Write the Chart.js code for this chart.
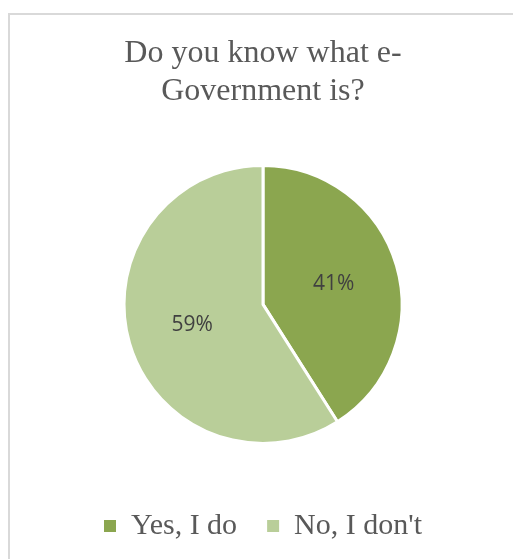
<!DOCTYPE html>
<html lang="en">
<head>
  <meta charset="UTF-8">
  <title>Do you know what e-Government is?</title>
  <style>
    html, body {
      margin: 0;
      padding: 0;
      background-color: white;
      overflow: hidden;
    }

    /* marco gris del grafico, se sale por la derecha y por abajo */
    .chart-frame {
      position: absolute;
      left: 8px;
      top: 13px;
      width: 600px;
      height: 600px;
      border: 2px solid #d9d9d9;
    }

    .chart-container {
      position: absolute;
      left: 0;
      top: 0;
      width: 513px;
      height: 559px;
    }
  </style>
  <script src="https://cdn.jsdelivr.net/npm/chart.js"></script>
</head>
<body>
  <div class="chart-frame"></div>
  <div class="chart-container">
    <canvas id="graficaGobierno"></canvas>
  </div>

  <script>
    const titleLines = ['Do you know what e-', 'Government is?'];
    const categories = ['Yes, I do', "No, I don't"];
    const percentValues = [41, 59];
    const sliceColors = ['#8ba64f', '#b9ce99'];

    // etiquetas de porcentaje dentro de cada porcion
    const sliceLabels = {
      id: 'sliceLabels',
      afterDatasetsDraw(chart) {
        const ctx = chart.ctx;
        const meta = chart.getDatasetMeta(0);
        const data = chart.data.datasets[0].data;
        const total = data.reduce((a, b) => a + b, 0);
        ctx.save();
        ctx.font = '21px "Open Sans"';
        ctx.fillStyle = '#404040';
        ctx.textAlign = 'center';
        ctx.textBaseline = 'middle';
        meta.data.forEach((arc, i) => {
          const p = arc.getProps(['x', 'y', 'startAngle', 'endAngle', 'outerRadius'], true);
          const mid = (p.startAngle + p.endAngle) / 2;
          const r = p.outerRadius * 0.53;
          const text = Math.round(data[i] / total * 100) + '%';
          ctx.fillText(text, p.x + Math.cos(mid) * r, p.y + Math.sin(mid) * r);
        });
        ctx.restore();
      }
    };

    const ctx = document.getElementById('graficaGobierno').getContext('2d');
    new Chart(ctx, {
      type: 'pie',
      data: {
        labels: categories,
        datasets: [{
          data: percentValues,
          backgroundColor: sliceColors,
          borderColor: '#ffffff',
          borderWidth: 3
        }]
      },
      options: {
        responsive: true,
        maintainAspectRatio: false,
        animation: false,
        radius: 139,
        layout: {
          padding: { left: 13, top: 0, right: 0, bottom: 8 }
        },
        plugins: {
          tooltip: { enabled: false },
          title: {
            display: true,
            text: titleLines,
            color: '#595959',
            font: { family: '"Liberation Serif", "Times New Roman", serif', size: 32, weight: 'normal', lineHeight: 1.2 },
            padding: { top: 34, bottom: 17 }
          },
          legend: {
            position: 'bottom',
            labels: {
              color: '#595959',
              font: { family: '"Liberation Serif", "Times New Roman", serif', size: 30 },
              boxWidth: 12,
              boxHeight: 12,
              padding: 30,
              // cuadros sin borde blanco
              generateLabels(chart) {
                const items = Chart.overrides.pie.plugins.legend.labels.generateLabels(chart);
                items.forEach(it => { it.lineWidth = 0; it.strokeStyle = it.fillStyle; });
                return items;
              }
            }
          }
        }
      },
      plugins: [sliceLabels]
    });
  </script>
</body>
</html>
